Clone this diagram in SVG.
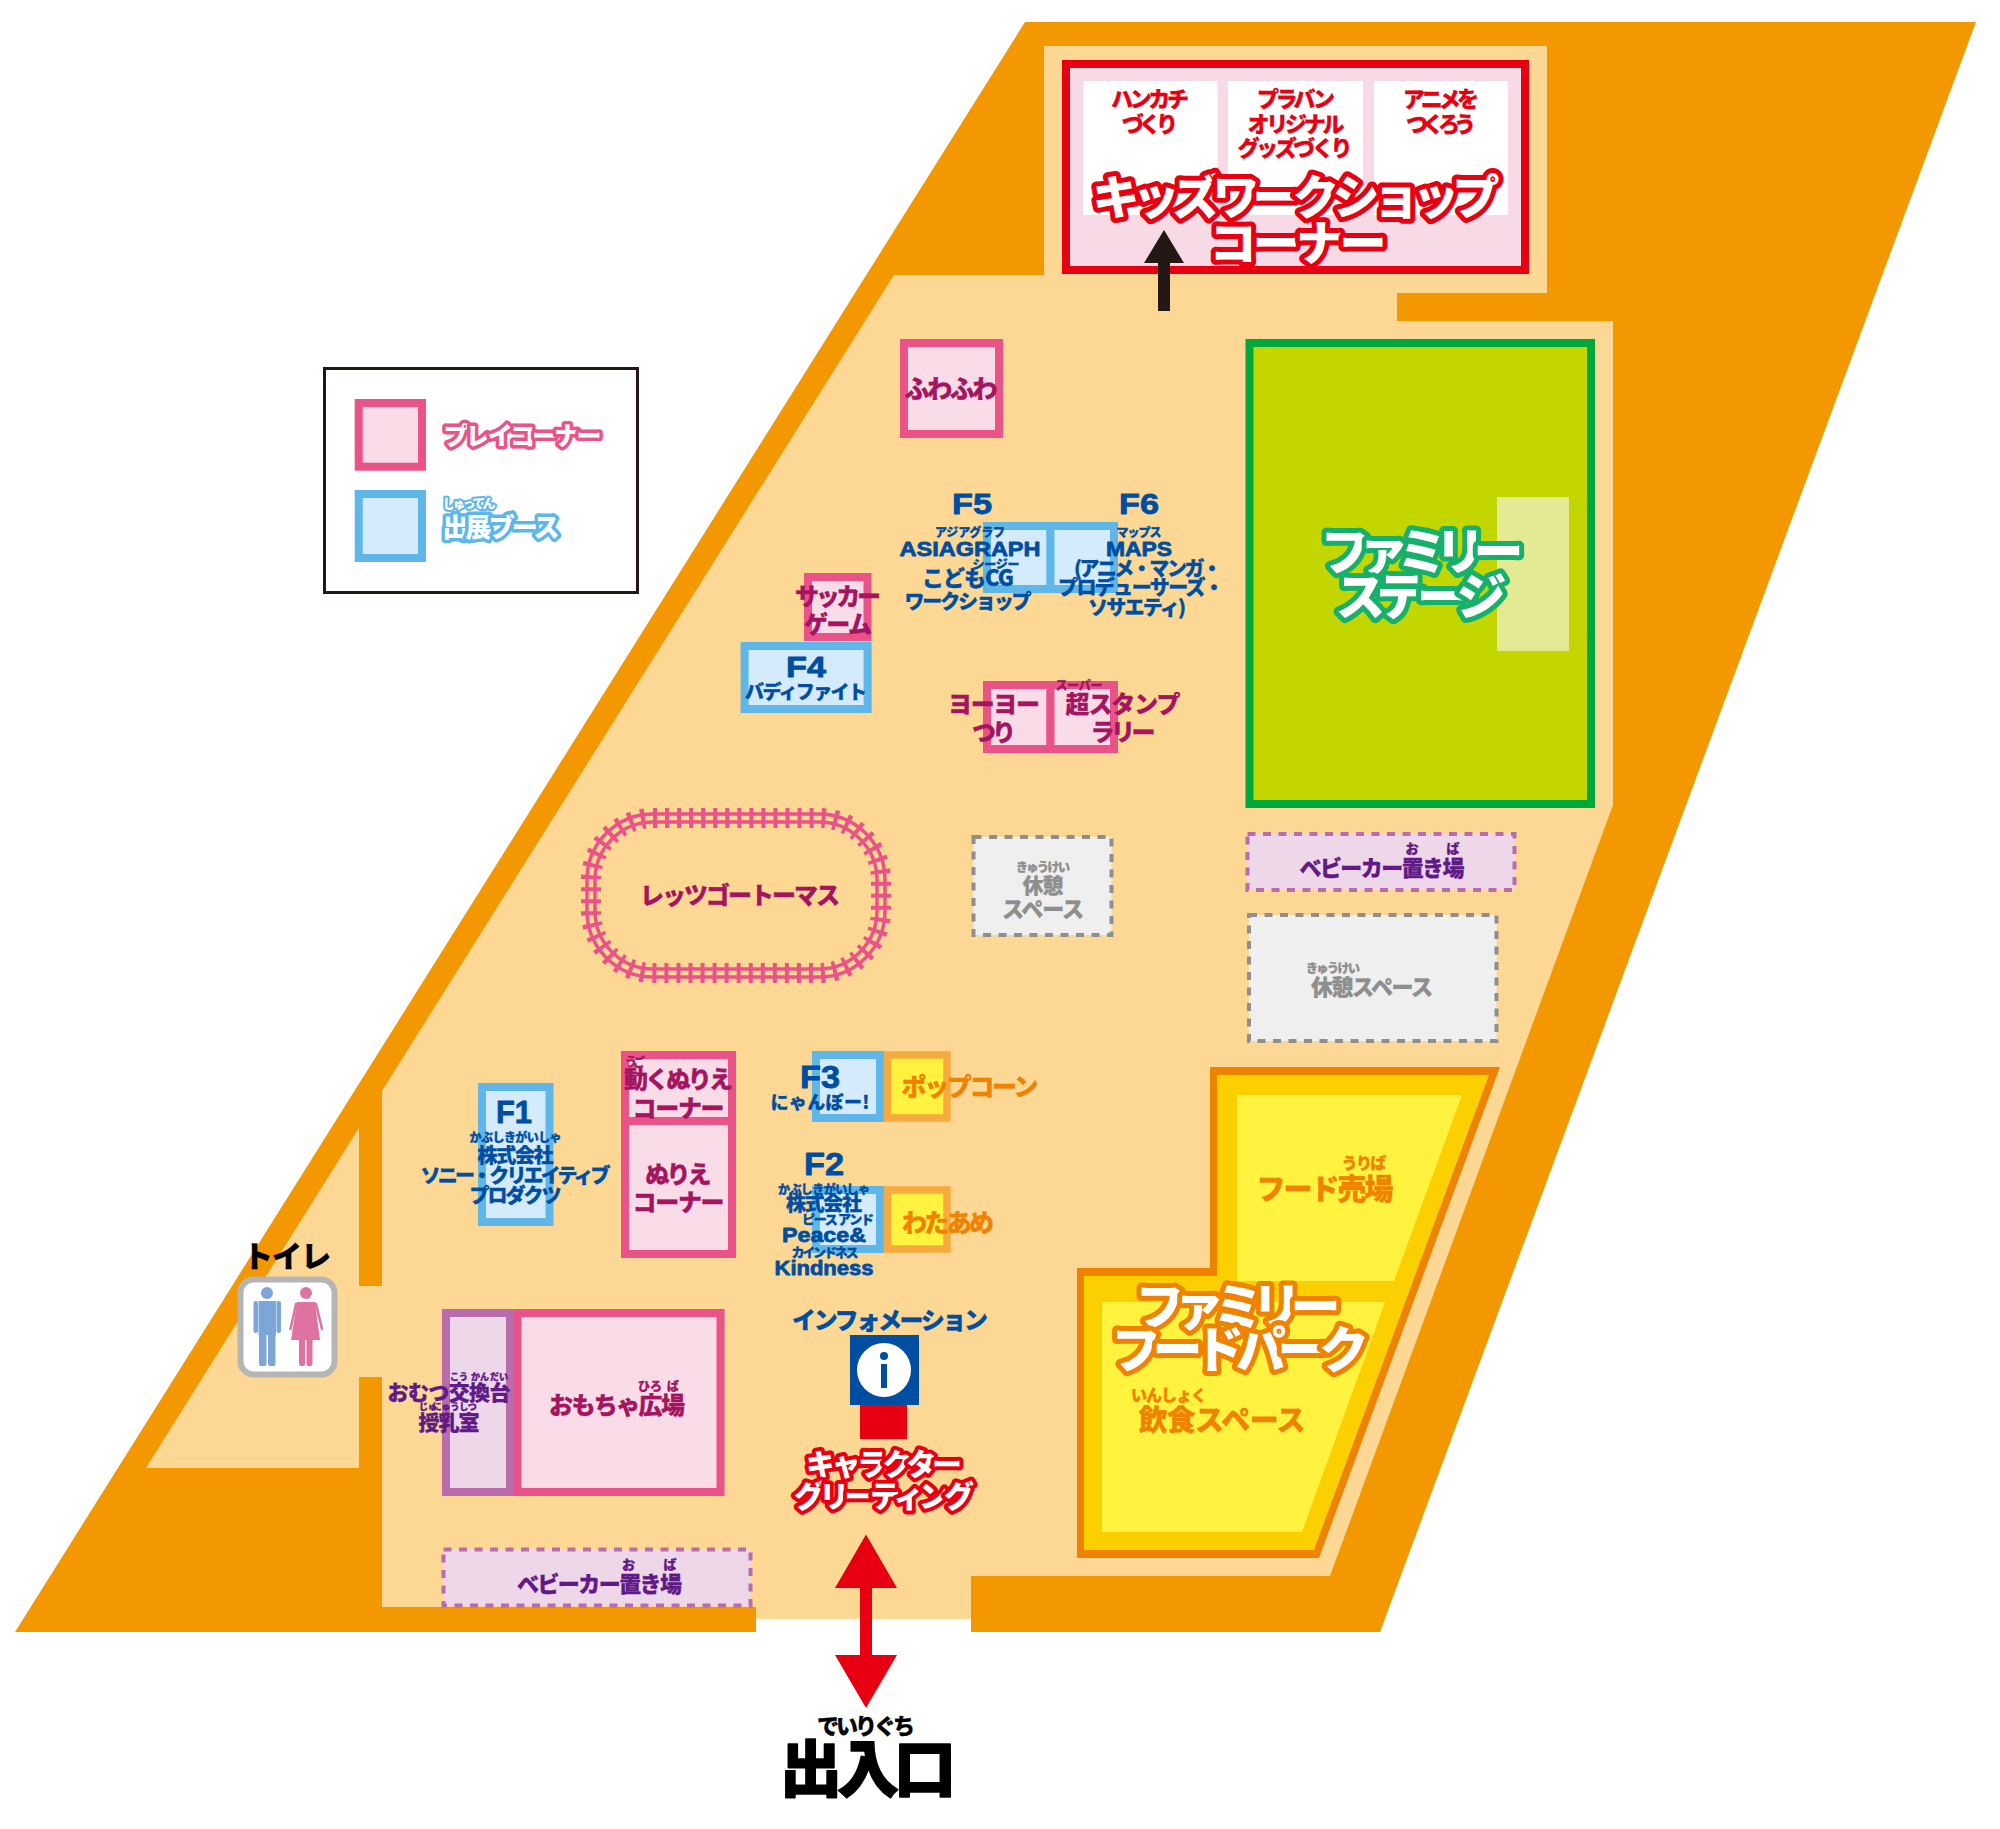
<svg xmlns="http://www.w3.org/2000/svg" width="2000" height="1829" viewBox="0 0 2000 1829">
<style>
text{font-family:"Noto Sans CJK JP","Noto Sans",sans-serif;font-weight:900;text-anchor:middle;dominant-baseline:central;transform:translateY(-.08em);stroke-linejoin:round}
.pk{fill:#A5145F;stroke:#A5145F;stroke-width:.3}
.bl{fill:#004EA2;stroke:#004EA2;stroke-width:.3}
.pu{fill:#601986;stroke:#601986;stroke-width:.3}.gy{fill:#8E8E8E;stroke:#8E8E8E;stroke-width:.3}.or{fill:#EF8200;stroke:#EF8200;stroke-width:.3}.rd{fill:#E60012;stroke:#E60012;stroke-width:.3}.bk{fill:#000;stroke:#000;stroke-width:.3}
.lat{font-family:"Liberation Sans",Arial,sans-serif;font-weight:700;stroke-width:.8;transform:none}
.halo{fill:#fff;paint-order:stroke}
.play{fill:#F9DCE8;stroke:#E95388;stroke-width:8}
.booth{fill:#D3EBFA;stroke:#5EB7E8;stroke-width:8}
.snack{fill:#FFF33F;stroke:#F7AB3E;stroke-width:7.5}
.pur{fill:#EDD7E9;stroke:#B96CAB;stroke-width:8}
.dp{fill:#EDD7E9;stroke:#B96CAB;stroke-width:4;stroke-dasharray:8 7.5}
.dg{fill:#EFEFEF;stroke:#8E8E8E;stroke-width:4;stroke-dasharray:8 7.5}
.track{fill:none;stroke:#E95388}
</style>
<g id="floor">
<polygon fill="#F39800" points="1025,22 1976,22 1380,1632 971,1632 971,1600 756,1600 756,1632 15,1632"/>
<polygon fill="#FCD894" points="894,275 1044,275 1044,46 1547,46 1547,293 1397,293 1397,321 1613,321 1613,805 1330,1576 971,1576 971,1619 756,1619 756,1607 382,1607 382,1377 359,1377 359,1468 146,1468 359,1128 359,1286 382,1286 382,1091"/>
</g>
<g id="kids-workshop">
<rect x="1066" y="64" width="459" height="206" fill="#F8DAE6" stroke="#E60012" stroke-width="8"/>
<rect x="1083" y="81" width="134.500" height="134" fill="#fff"/>
<rect x="1228" y="81" width="135" height="134" fill="#fff"/>
<rect x="1374" y="81" width="134" height="134" fill="#fff"/>
<text class="rd" x="1150" y="99" font-size="22" textLength="78">ハンカチ</text>
<text class="rd" x="1150" y="124" font-size="22" textLength="56">づくり</text>
<text class="rd" x="1296" y="99" font-size="22" textLength="78">プラバン</text>
<text class="rd" x="1296" y="124" font-size="22" textLength="97">オリジナル</text>
<text class="rd" x="1295" y="148" font-size="22" textLength="115">グッズづくり</text>
<text class="rd" x="1441" y="99" font-size="22" textLength="76">アニメを</text>
<text class="rd" x="1441" y="124" font-size="22" textLength="70">つくろう</text>
<text class="halo" x="1296" y="197" font-size="47" stroke="#E60012" stroke-width="10" textLength="407">キッズワークショップ</text>
<text class="halo" x="1298" y="243" font-size="47" stroke="#E60012" stroke-width="10" textLength="177">コーナー</text>
</g>
<g id="family-stage">
<rect x="1249.500" y="343" width="341.500" height="461" fill="#C3D600" stroke="#00A73C" stroke-width="8"/>
<rect x="1497" y="497" width="72" height="154" fill="#E3EA93"/>
<text class="halo" x="1422" y="552" font-size="50" stroke="#16B06B" stroke-width="10" textLength="203">ファミリー</text>
<text class="halo" x="1421" y="597" font-size="50" stroke="#16B06B" stroke-width="10" textLength="171">ステージ</text>
</g>
<g id="legend">
<rect x="324.500" y="368.500" width="313" height="224" fill="#fff" stroke="#231815" stroke-width="3"/>
<rect class="play" x="358.700" y="403" width="63.300" height="63.700"/>
<rect class="booth" x="358.700" y="494" width="63.300" height="64"/>
<text class="halo" x="522.500" y="436" font-size="25" stroke="#E95388" stroke-width="7" textLength="158">プレイコーナー</text>
<text class="halo" x="469" y="504" font-size="13" stroke="#5EB7E8" stroke-width="4" textLength="53">しゅってん</text>
<text class="halo" x="501" y="528" font-size="26" stroke="#5EB7E8" stroke-width="7" textLength="117">出展ブース</text>
</g>
<g id="fuwafuwa">
<rect class="play" x="904" y="343" width="95" height="91"/>
<text class="pk" x="951" y="389" font-size="25" textLength="93">ふわふわ</text>
</g>
<g id="f5">
<rect class="booth" x="987" y="526" width="63.500" height="63"/>
<text class="lat bl" x="972" y="504" font-size="29" textLength="40" lengthAdjust="spacingAndGlyphs">F5</text>
<text class="bl" x="970" y="532" font-size="12" textLength="70">アジアグラフ</text>
<text class="lat bl" x="970" y="548" font-size="21" textLength="141" lengthAdjust="spacingAndGlyphs">ASIAGRAPH</text>
<text class="bl" x="996" y="564" font-size="12" textLength="47">シージー</text>
<text class="bl" x="968" y="578" font-size="22" textLength="92">こどもCG</text>
<text class="bl" x="968" y="602" font-size="20" textLength="127">ワークショップ</text>
</g>
<g id="f6">
<rect class="booth" x="1050.500" y="526" width="63.500" height="63"/>
<text class="lat bl" x="1139" y="504" font-size="29" textLength="40" lengthAdjust="spacingAndGlyphs">F6</text>
<text class="bl" x="1139" y="532" font-size="12" textLength="45">マップス</text>
<text class="lat bl" x="1139" y="548" font-size="21" textLength="66" lengthAdjust="spacingAndGlyphs">MAPS</text>
<text class="bl" x="1148" y="569" font-size="20" textLength="148">(アニメ・マンガ・</text>
<text class="bl" x="1141" y="588" font-size="20" textLength="166">プロデューサーズ・</text>
<text class="bl" x="1137" y="608" font-size="20" textLength="98">ソサエティ)</text>
</g>
<g id="soccer">
<rect class="play" x="808" y="577" width="59.500" height="60"/>
<text class="pk" x="838" y="596" font-size="24" textLength="86">サッカー</text>
<text class="pk" x="838" y="624" font-size="24" textLength="68">ゲーム</text>
</g>
<g id="f4">
<rect class="booth" x="744.600" y="646" width="123" height="63"/>
<text class="lat bl" x="806" y="667" font-size="29" textLength="40" lengthAdjust="spacingAndGlyphs">F4</text>
<text class="bl" x="806" y="692" font-size="19" textLength="122">バディファイト</text>
</g>
<g id="yoyo">
<rect class="play" x="987" y="685" width="63.500" height="64"/>
<text class="pk" x="994" y="704" font-size="24" textLength="92">ヨーヨー</text>
<text class="pk" x="994" y="732" font-size="24" textLength="44">つり</text>
</g>
<g id="stamp">
<rect class="play" x="1050.500" y="685" width="63.500" height="64"/>
<text class="pk" x="1079" y="685" font-size="12" textLength="47">スーパー</text>
<text class="pk" x="1123" y="704" font-size="24" textLength="115">超スタンプ</text>
<text class="pk" x="1123" y="732" font-size="24" textLength="65">ラリー</text>
</g>
<g id="thomas">
<rect class="track" x="591" y="818" width="290" height="155" rx="62" stroke-width="20" pathLength="780" stroke-dasharray="4 8"/>
<rect class="track" x="587" y="814" width="298" height="163" rx="66" stroke-width="3.500"/>
<rect class="track" x="595" y="822" width="282" height="147" rx="58" stroke-width="3.500"/>
<text class="pk" x="740" y="895" font-size="24" textLength="200">レッツゴートーマス</text>
</g>
<g id="rest-1">
<rect class="dg" x="973.500" y="837" width="138" height="98"/>
<text class="gy" x="1043" y="867" font-size="12" textLength="54">きゅうけい</text>
<text class="gy" x="1043" y="886" font-size="21" textLength="41">休憩</text>
<text class="gy" x="1043" y="909" font-size="22" textLength="82">スペース</text>
</g>
<g id="stroller-1">
<rect class="dp" x="1247.500" y="834" width="267" height="56"/>
<text class="pu" x="1412" y="849" font-size="13">お</text>
<text class="pu" x="1453" y="849" font-size="13">ば</text>
<text class="pu" x="1382" y="868" font-size="22" textLength="165">ベビーカー置き場</text>
</g>
<g id="rest-2">
<rect class="dg" x="1249" y="915" width="247.500" height="126"/>
<text class="gy" x="1333" y="968" font-size="12" textLength="54">きゅうけい</text>
<text class="gy" x="1372" y="987" font-size="22" textLength="122">休憩スペース</text>
</g>
<g id="food-park">
<polygon fill="#EF8200" points="1210,1067 1500,1067 1319,1558 1077,1558 1077,1268 1210,1268"/>
<polygon fill="#FCD000" points="1217,1075 1489,1075 1314,1550 1084,1550 1084,1276 1217,1276"/>
<polygon fill="#FFF33F" points="1237,1095 1462,1095 1394,1281 1237,1281"/>
<polygon fill="#FFF33F" points="1102,1302 1385,1302 1302,1532 1102,1532"/>
<text class="or" x="1364" y="1163" font-size="16" textLength="45">うりば</text>
<text class="or" x="1325" y="1189" font-size="29" textLength="137">フード売場</text>
<text class="or" x="1169" y="1395" font-size="16" textLength="76">いんしょく</text>
<text class="or" x="1222" y="1420" font-size="29" textLength="167">飲食スペース</text>
<text class="halo" x="1238" y="1307" font-size="50" stroke="#EF8200" stroke-width="10" textLength="205">ファミリー</text>
<text class="halo" x="1240" y="1350" font-size="50" stroke="#EF8200" stroke-width="10" textLength="258">フードパーク</text>
</g>
<g id="f1">
<rect class="booth" x="482" y="1087" width="67.500" height="135"/>
<text class="lat bl" x="514" y="1112" font-size="31" textLength="36" lengthAdjust="spacingAndGlyphs">F1</text>
<text class="bl" x="515.600" y="1137" font-size="12" textLength="92">かぶしきがいしゃ</text>
<text class="bl" x="515.600" y="1156" font-size="20" textLength="76">株式会社</text>
<text class="bl" x="515.600" y="1176" font-size="20" textLength="190">ソニー・クリエイティブ</text>
<text class="bl" x="515.600" y="1196" font-size="20" textLength="92">プロダクツ</text>
</g>
<g id="nurie">
<rect class="play" x="625" y="1055" width="107" height="199"/>
<line x1="625" y1="1121" x2="732" y2="1121" stroke="#E95388" stroke-width="8"/>
<text class="pk" x="635" y="1062" font-size="12" textLength="20">うご</text>
<text class="pk" x="678.600" y="1079" font-size="24" textLength="109">動くぬりえ</text>
<text class="pk" x="678.600" y="1108" font-size="24" textLength="92">コーナー</text>
<text class="pk" x="678.600" y="1174" font-size="24" textLength="66">ぬりえ</text>
<text class="pk" x="678.600" y="1202" font-size="24" textLength="92">コーナー</text>
</g>
<g id="f3">
<rect class="booth" x="816" y="1055" width="64" height="63"/>
<text class="lat bl" x="820" y="1077" font-size="31" textLength="40" lengthAdjust="spacingAndGlyphs">F3</text>
<text class="bl" x="820" y="1102" font-size="18" textLength="99">にゃんぼー!</text>
</g>
<g id="popcorn">
<rect class="snack" x="887.500" y="1055" width="59.500" height="63"/>
<text class="or" x="970" y="1087" font-size="25" textLength="137">ポップコーン</text>
</g>
<g id="f2">
<rect class="booth" x="816" y="1190" width="64" height="59"/>
<text class="lat bl" x="824" y="1164" font-size="31" textLength="40" lengthAdjust="spacingAndGlyphs">F2</text>
<text class="bl" x="824" y="1189" font-size="12" textLength="92">かぶしきがいしゃ</text>
<text class="bl" x="824" y="1204" font-size="20" textLength="76">株式会社</text>
<text class="bl" x="838" y="1220" font-size="13" textLength="72" xml:space="preserve">ピース アンド</text>
<text class="lat bl" x="824" y="1234" font-size="21" textLength="84" lengthAdjust="spacingAndGlyphs">Peace&amp;</text>
<text class="bl" x="825" y="1253" font-size="13" textLength="67">カインドネス</text>
<text class="lat bl" x="824" y="1267" font-size="21" textLength="99" lengthAdjust="spacingAndGlyphs">Kindness</text>
</g>
<g id="wataame">
<rect class="snack" x="887.500" y="1190" width="59.500" height="59"/>
<text class="or" x="948" y="1223" font-size="25" textLength="92">わたあめ</text>
</g>
<g id="nursing">
<rect class="pur" x="446" y="1313" width="64" height="179"/>
<text class="pu" x="459" y="1377" font-size="9">こう</text>
<text class="pu" x="480" y="1377" font-size="9">かん</text>
<text class="pu" x="499" y="1377" font-size="9">だい</text>
<text class="pu" x="449" y="1393" font-size="21" textLength="123">おむつ交換台</text>
<text class="pu" x="428" y="1407" font-size="9">じゅ</text>
<text class="pu" x="446" y="1407" font-size="9">にゅう</text>
<text class="pu" x="468" y="1407" font-size="9">しつ</text>
<text class="pu" x="449" y="1423" font-size="21" textLength="61">授乳室</text>
</g>
<g id="toy-plaza">
<rect class="play" x="517.500" y="1313" width="203" height="179"/>
<text class="pk" x="650" y="1386" font-size="12">ひろ</text>
<text class="pk" x="673" y="1386" font-size="12">ば</text>
<text class="pk" x="617" y="1405" font-size="24" textLength="136">おもちゃ広場</text>
</g>
<g id="toilet">
<text class="bk" x="287" y="1256" font-size="30" textLength="88">トイレ</text>
<rect x="240.500" y="1279.500" width="94" height="95" rx="13" fill="#fff" stroke="#B5B5B5" stroke-width="6"/>
<g fill="#7CA6D8">
<circle cx="267" cy="1293" r="6"/>
<rect x="258.500" y="1301" width="17.500" height="34"/>
<rect x="253.500" y="1301" width="4.500" height="32" rx="2"/>
<rect x="276.500" y="1301" width="4.500" height="32" rx="2"/>
<rect x="259" y="1333" width="7.500" height="33" rx="2"/>
<rect x="268" y="1333" width="7.500" height="33" rx="2"/>
</g>
<g fill="#DE73A1">
<circle cx="306" cy="1293" r="6"/>
<polygon points="297,1302 315,1302 320,1340 291,1340"/>
<line x1="296" y1="1304" x2="290.500" y2="1329" stroke="#DE73A1" stroke-width="2.500" stroke-linecap="round"/>
<line x1="316" y1="1304" x2="322" y2="1329" stroke="#DE73A1" stroke-width="2.500" stroke-linecap="round"/>
<rect x="299" y="1338" width="6" height="28" rx="2"/>
<rect x="306.500" y="1338" width="6" height="28" rx="2"/>
</g>
</g>
<g id="information">
<text class="bl" x="890" y="1320" font-size="24" textLength="196">インフォメーション</text>
<rect x="850" y="1335" width="69" height="70" fill="#004EA2"/>
<circle cx="884" cy="1370" r="27" fill="#fff"/>
<circle cx="884" cy="1356" r="4" fill="#004EA2"/>
<rect x="881" y="1364" width="6" height="24" fill="#004EA2"/>
</g>
<g id="greeting">
<rect x="860" y="1405" width="47" height="34" fill="#E60012"/>
<text class="halo" x="884" y="1464" font-size="30" stroke="#E60012" stroke-width="8" textLength="156">キャラクター</text>
<text class="halo" x="884" y="1496" font-size="30" stroke="#E60012" stroke-width="8" textLength="180">グリーティング</text>
</g>
<g id="stroller-2">
<rect class="dp" x="443.500" y="1549.500" width="307" height="56"/>
<text class="pu" x="628.600" y="1565" font-size="13">お</text>
<text class="pu" x="670" y="1565" font-size="13">ば</text>
<text class="pu" x="599.500" y="1584" font-size="22" textLength="165">ベビーカー置き場</text>
</g>
<g id="entrance">
<text class="bk" x="866" y="1726" font-size="22" textLength="98">でいりぐち</text>
<text class="bk" x="868" y="1770" font-size="62" textLength="176" style="stroke-width:1.500">出入口</text>
</g>
<g id="connectors">
<polygon fill="#231815" points="1164,230 1184,263 1170,263 1170,311 1158,311 1158,263 1144,263"/>
<polygon fill="#E60012" points="866,1534.500 897,1588 872,1588 872,1655 897,1655 866,1708 835,1655 860,1655 860,1588 835,1588"/>
</g>
</svg>
